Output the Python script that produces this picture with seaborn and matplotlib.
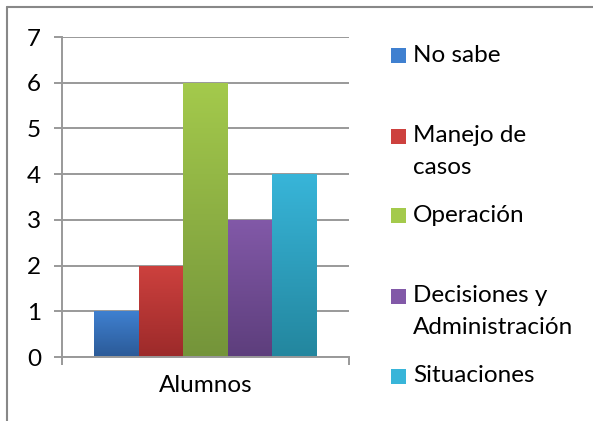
import numpy as np
import pandas as pd
import matplotlib
matplotlib.use("Agg")
import matplotlib.pyplot as plt
import seaborn as sns
from matplotlib.colors import LinearSegmentedColormap
from matplotlib.patches import Rectangle
from matplotlib.lines import Line2D

# datos
categoria = "Alumnos"
series = ["No sabe", "Manejo de\ncasos", "Operación",
          "Decisiones y\nAdministración", "Situaciones"]
valores = [1, 2, 6, 3, 4]
y_ticks = [0, 1, 2, 3, 4, 5, 6, 7]

# estilo (degradado de cada barra, arriba -> abajo)
color_top = ["#3f80d0", "#cd413e", "#a4ca4c", "#8259a8", "#38b5d9"]
color_bottom = ["#2b5a97", "#9c2a2a", "#74943a", "#5d3e7c", "#23869e"]
gris = "#999999"
fs = 17.5

sns.set_theme(style="white")
plt.rcParams["font.family"] = ["Lato", "DejaVu Sans"]

W, H = 593, 421
fig = plt.figure(figsize=(W / 100, H / 100), dpi=100)
ax = fig.add_axes([62 / W, 1 - 357 / H, (349 - 62) / W, 320 / H])

df = pd.DataFrame({"grupo": [categoria] * len(series),
                   "serie": series, "valor": valores})
sns.barplot(data=df, x="grupo", y="valor", hue="serie", hue_order=series,
            palette=color_top, saturation=1, width=0.775, legend=False,
            linewidth=0, ax=ax)

# degradado vertical en las barras
grad = np.linspace(0, 1, 256).reshape(-1, 1)
bars = sorted(ax.patches, key=lambda p: p.get_x())
for p, c0, c1 in zip(bars, color_top, color_bottom):
    x0, y0, w, h = p.get_x(), p.get_y(), p.get_width(), p.get_height()
    cmap = LinearSegmentedColormap.from_list("g", [c1, c0])
    im = ax.imshow(grad, extent=[x0, x0 + w, y0, y0 + h], origin="lower",
                   cmap=cmap, aspect="auto", zorder=p.get_zorder() + 0.1,
                   interpolation="bilinear")
    im.set_clip_path(p)

ax.set_xlim(-0.5, 0.5)
ax.set_ylim(0, 7)
ax.set_yticks(y_ticks)
ax.set_xticks([0])
ax.set_xticklabels([categoria])
ax.set_xticks([-0.5, 0.5], minor=True)
ax.set_xlabel("")
ax.set_ylabel("")

ax.set_axisbelow(True)
ax.yaxis.grid(True, color=gris, linewidth=1.4)
for s in ["top", "right"]:
    ax.spines[s].set_visible(False)
for s in ["left", "bottom"]:
    ax.spines[s].set_color(gris)
    ax.spines[s].set_linewidth(1.4)

ax.tick_params(axis="y", direction="out", length=6, width=1.4, color=gris,
               labelsize=fs, pad=9, left=True, labelcolor="black")
ax.tick_params(axis="x", which="major", length=0, pad=13, labelsize=fs,
               labelcolor="black")
ax.tick_params(axis="x", which="minor", direction="out", length=6,
               width=1.4, color=gris, bottom=True)

# leyenda a la derecha
leyenda_y = [55, 136, 215, 296, 376]
paso = 32
for lab, c0, c1, yc in zip(series, color_top, color_bottom, leyenda_y):
    sq = Rectangle((391 / W, 1 - (yc + 7.5) / H), 15 / W, 15 / H,
                   transform=fig.transFigure, facecolor=c0, edgecolor="none")
    fig.patches.append(sq)
    for k, linea in enumerate(lab.split("\n")):
        fig.text(413 / W, 1 - (yc + k * paso) / H, linea, fontsize=fs,
                 va="center", ha="left", color="black")

# marco del gráfico (solo se ven los bordes superior e izquierdo)
x_m, y_m = 7 / W, 1 - 7 / H
fig.add_artist(Line2D([x_m, 1], [y_m, y_m], transform=fig.transFigure,
                      color="#888888", linewidth=1.5))
fig.add_artist(Line2D([x_m, x_m], [0, y_m], transform=fig.transFigure,
                      color="#888888", linewidth=1.5))

fig.savefig("out.png", dpi=100)
